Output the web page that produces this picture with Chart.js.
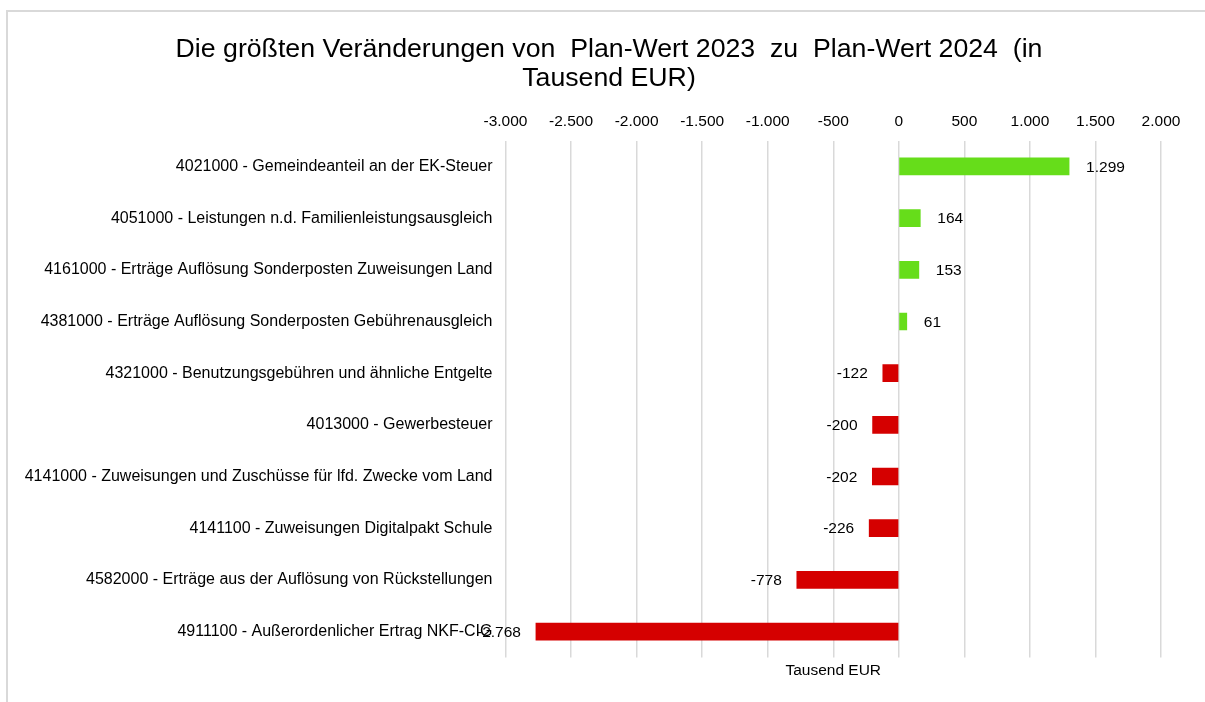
<!DOCTYPE html>
<html>
<head>
<meta charset="utf-8">
<script src="https://cdn.jsdelivr.net/npm/chart.js"></script>
<style>
  html, body { margin: 0; padding: 0; background: #fff; overflow: hidden; }
  #frame { position: absolute; left: 6px; top: 10px; width: 1300px; height: 800px;
           border-left: 2px solid #d9d9d9; border-top: 2px solid #d9d9d9; }
  #chart { position: absolute; left: 0; top: 0; }
</style>
</head>
<body>
<div id="frame"></div>
<canvas id="chart" width="1205" height="702"></canvas>
<script>
// Data
const categories = [
  '4021000 - Gemeindeanteil an der EK-Steuer',
  '4051000 - Leistungen n.d. Familienleistungsausgleich',
  '4161000 - Erträge Auflösung Sonderposten Zuweisungen Land',
  '4381000 - Erträge Auflösung Sonderposten Gebührenausgleich',
  '4321000 - Benutzungsgebühren und ähnliche Entgelte',
  '4013000 - Gewerbesteuer',
  '4141000 - Zuweisungen und Zuschüsse für lfd. Zwecke vom Land',
  '4141100 - Zuweisungen Digitalpakt Schule',
  '4582000 - Erträge aus der Auflösung von Rückstellungen',
  '4911100 - Außerordenlicher Ertrag NKF-CIG'
];
const changes = [1299, 164, 153, 61, -122, -200, -202, -226, -778, -2768];
const axisMin = -3000;
const axisMax = 2000;
const axisStep = 500;

const titleLines = [
  'Die größten Veränderungen von  Plan-Wert 2023  zu  Plan-Wert 2024  (in',
  'Tausend EUR)'
];

const FONT = '"Liberation Sans", Arial, sans-serif';

// German thousands separator
const fmt = v => {
  const s = Math.abs(Math.round(v)).toString().replace(/\B(?=(\d{3})+(?!\d))/g, '.');
  return (v < 0 ? '-' : '') + s;
};

// title is drawn by hand so it can sit a bit right of centre like the original
const chartTitle = {
  id: 'chartTitle',
  afterDraw(chart) {
    const ctx = chart.ctx;
    ctx.save();
    ctx.font = '26.7px ' + FONT;
    ctx.fillStyle = '#000';
    ctx.textAlign = 'center';
    ctx.textBaseline = 'middle';
    titleLines.forEach((line, i) => ctx.fillText(line, 609, 50 + i * 29));
    ctx.restore();
  }
};

// value labels next to each bar
const valueLabels = {
  id: 'valueLabels',
  afterDatasetsDraw(chart) {
    const ctx = chart.ctx;
    const meta = chart.getDatasetMeta(0);
    ctx.save();
    ctx.font = '15.5px ' + FONT;
    ctx.fillStyle = '#000';
    ctx.textBaseline = 'middle';
    meta.data.forEach((bar, i) => {
      const v = changes[i];
      if (v >= 0) {
        ctx.textAlign = 'left';
        ctx.fillText(fmt(v), bar.x + 17, bar.y + 1);
      } else {
        ctx.textAlign = 'right';
        ctx.fillText(fmt(v), bar.x - 15, bar.y + 1);
      }
    });
    ctx.restore();
  }
};

const ctx = document.getElementById('chart').getContext('2d');
new Chart(ctx, {
  type: 'bar',
  data: {
    labels: categories,
    datasets: [{
      label: 'Veränderung',
      data: changes,
      backgroundColor: changes.map(v => v >= 0 ? '#66dd1a' : '#d50000'),
      borderWidth: 0,
      barThickness: 17
    }]
  },
  options: {
    indexAxis: 'y',
    responsive: false,
    animation: false,
    layout: { padding: { left: 10, right: 44, top: 102, bottom: 22 } },
    plugins: {
      legend: { display: false },
      tooltip: { enabled: false },
      title: { display: false }
    },
    scales: {
      x: {
        position: 'top',
        min: axisMin,
        max: axisMax,
        grid: { color: '#d9d9d9', lineWidth: 1.5, drawTicks: false },
        border: { display: false },
        ticks: {
          stepSize: axisStep,
          padding: 10,
          color: '#000',
          font: { family: FONT, size: 15.5 },
          callback: v => fmt(v)
        }
      },
      x2: {
        type: 'linear',
        position: 'bottom',
        min: axisMin,
        max: axisMax,
        grid: { display: false, drawTicks: false },
        border: { display: false },
        ticks: { display: false },
        title: {
          display: true,
          text: 'Tausend EUR',
          color: '#000',
          font: { family: FONT, size: 15.5 },
          padding: { top: 4, bottom: 0 }
        }
      },
      y: {
        grid: { display: false, drawTicks: false },
        border: { display: false },
        ticks: {
          padding: 13,
          color: '#000',
          font: { family: FONT, size: 16 }
        },
        afterFit(scale) {
          scale.width = 505.5 - 10;
          scale.paddingTop = 0;
          scale.paddingBottom = 0;
        }
      }
    }
  },
  plugins: [valueLabels, chartTitle]
});
</script>
</body>
</html>
